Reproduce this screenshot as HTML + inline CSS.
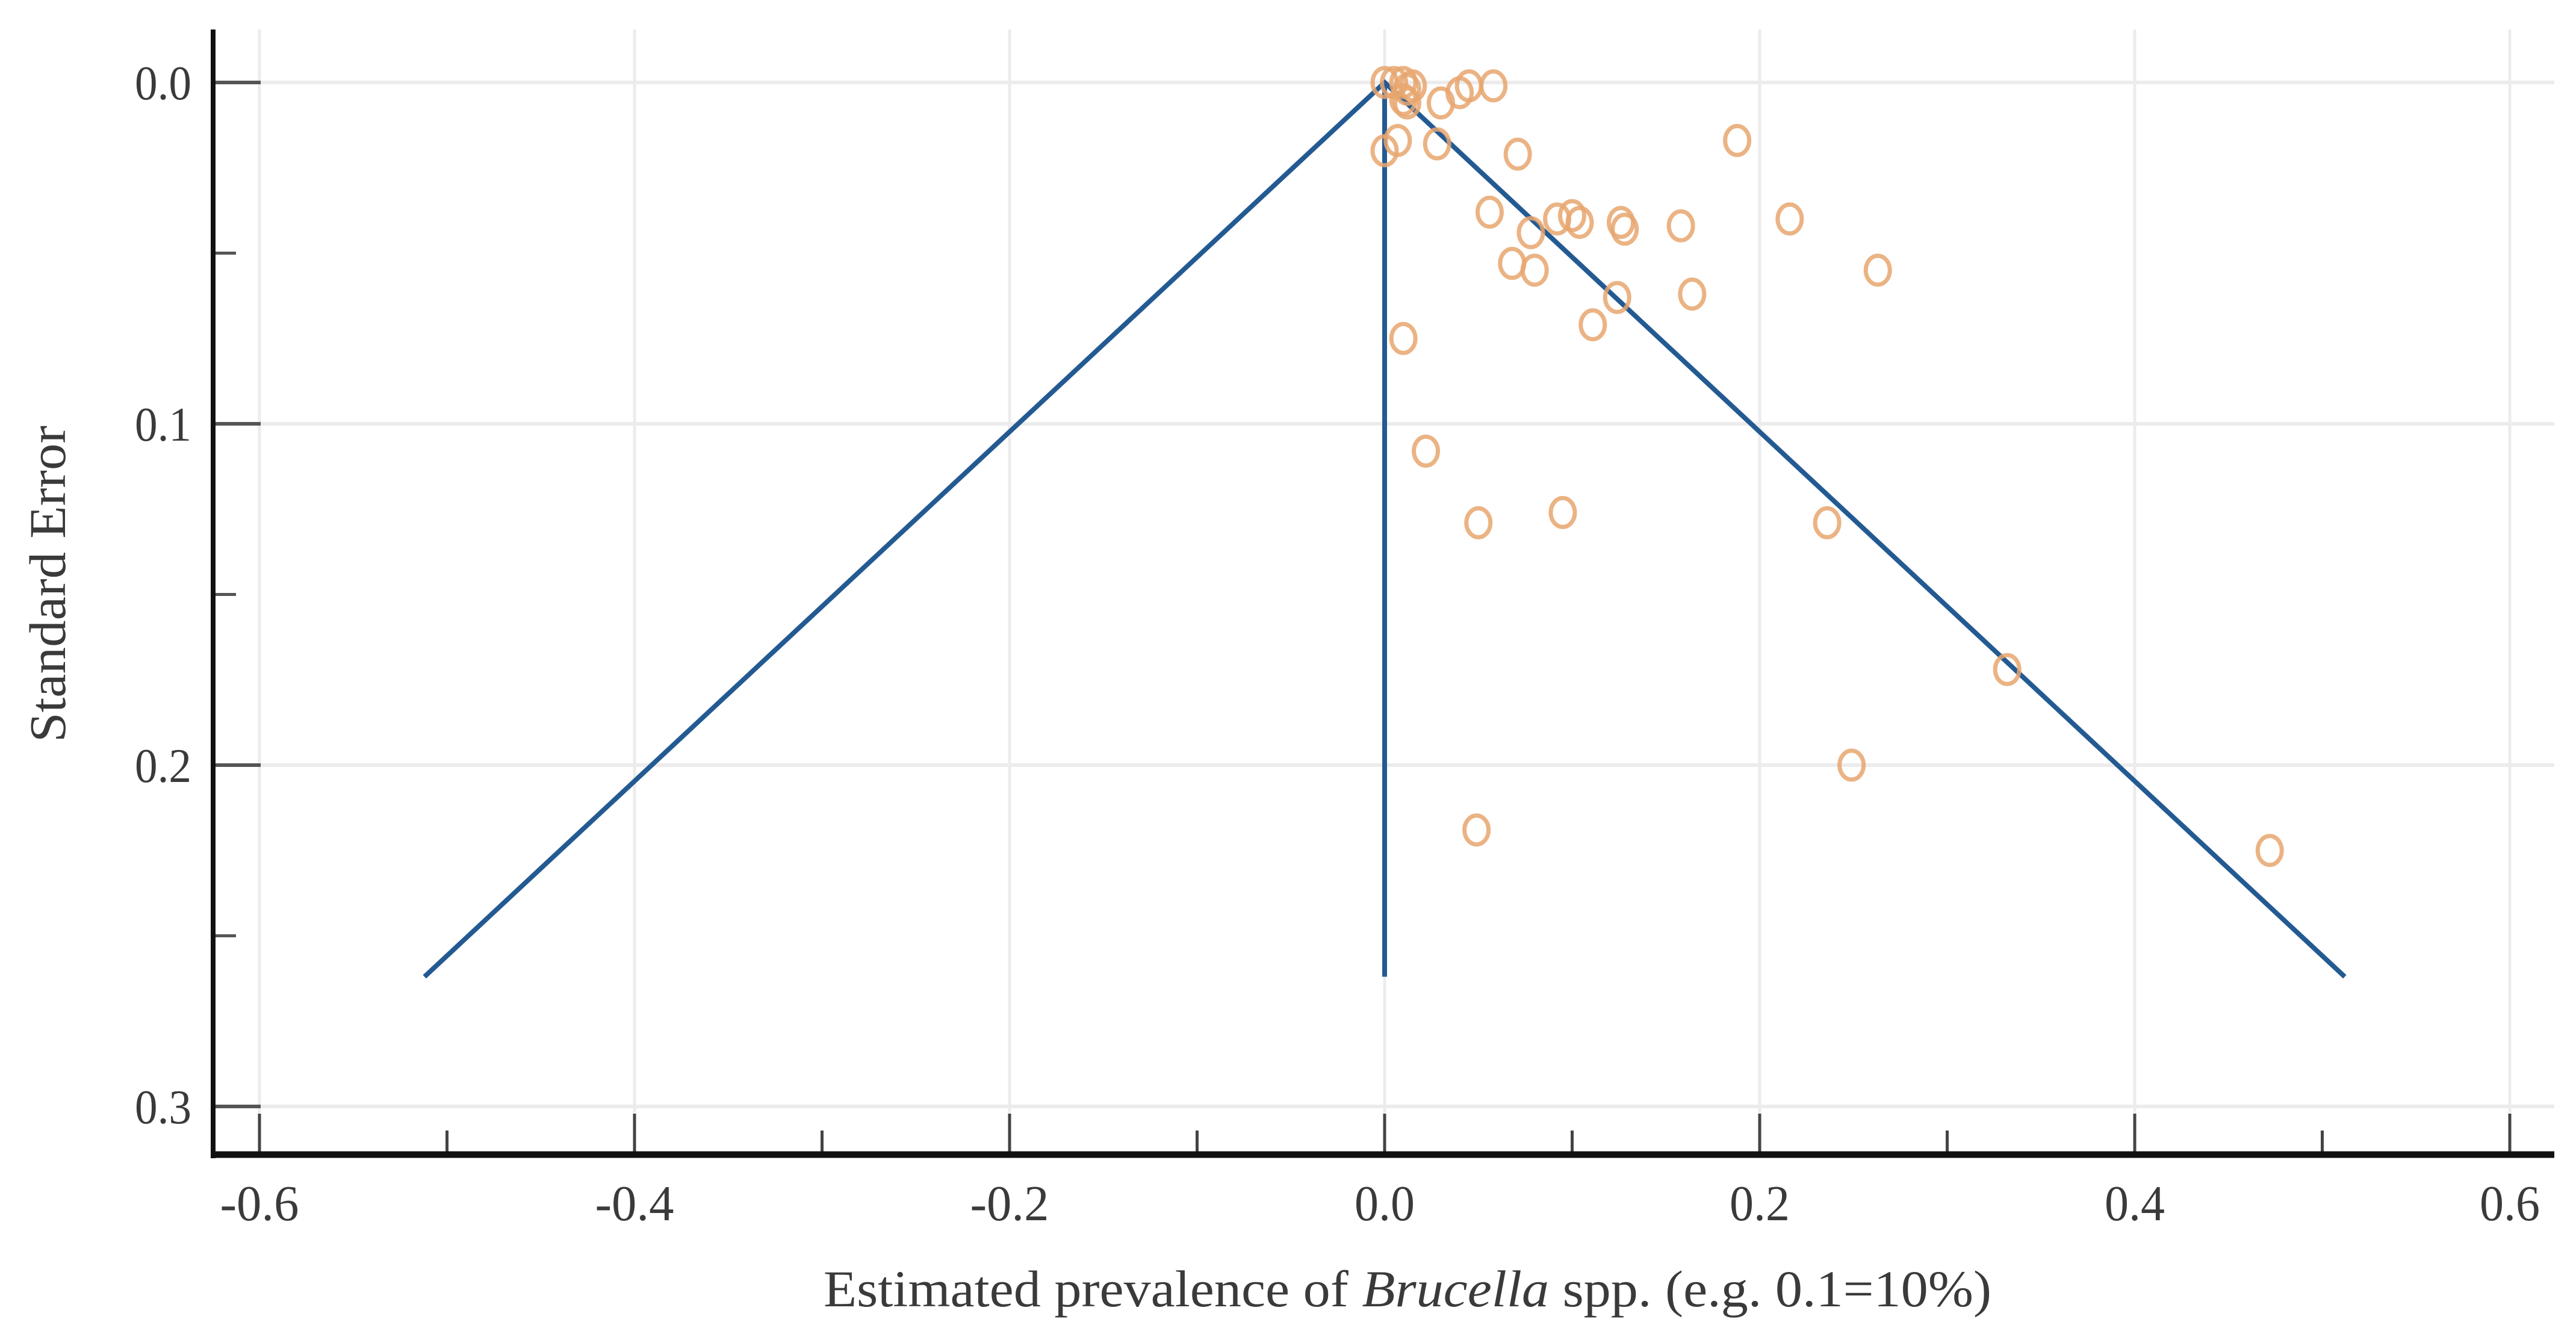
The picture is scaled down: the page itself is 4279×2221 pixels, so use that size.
<!DOCTYPE html>
<html><head><meta charset="utf-8"><style>
html,body{margin:0;padding:0;background:#fff}
svg{display:block}
text{font-family:"Liberation Serif",serif;fill:#3a3a3a}
</style></head><body>
<svg id="chart" width="4279" height="2221" viewBox="0 0 4279 2221" xmlns="http://www.w3.org/2000/svg">
<g id="grid"></g>
<g id="axes"></g>
<g id="funnel"></g>
<g id="pts"></g>
<text x="2338" y="2170" font-size="86" text-anchor="middle" textLength="1940" lengthAdjust="spacingAndGlyphs">Estimated prevalence of <tspan font-style="italic">Brucella</tspan> spp. (e.g. 0.1=10%)</text>
<text transform="translate(108,970) rotate(-90)" font-size="86" text-anchor="middle" textLength="526" lengthAdjust="spacingAndGlyphs">Standard Error</text>
</svg>
<script>
const xTicks = [-0.6,-0.4,-0.2,0.0,0.2,0.4,0.6];
const xTickLabels = ["-0.6","-0.4","-0.2","0.0","0.2","0.4","0.6"];
const xMinorTicks = [-0.5,-0.3,-0.1,0.1,0.3,0.5];
const yTicks = [0.0,0.1,0.2,0.3];
const yTickLabels = ["0.0","0.1","0.2","0.3"];
const yMinorTicks = [0.05,0.15,0.25];
const pointX = [0,0.005,0.01,0.012,0.015,0.01,0.012,0.045,0.058,0.03,0.04,0.007,0,0.028,0.071,0.188,0.056,0.092,0.1,0.104,0.126,0.128,0.158,0.216,0.078,0.068,0.08,0.263,0.124,0.164,0.111,0.01,0.022,0.05,0.095,0.236,0.332,0.249,0.049,0.472];
const pointSE = [0,0,0,0.002,0.001,0.005,0.006,0.001,0.001,0.006,0.003,0.017,0.02,0.018,0.021,0.017,0.038,0.04,0.039,0.041,0.041,0.043,0.042,0.040,0.044,0.053,0.055,0.055,0.063,0.062,0.071,0.075,0.108,0.129,0.126,0.129,0.172,0.2,0.219,0.225];
const funnelMean = [0];
const funnelSEmax = [0.262];
const funnelHalfWidth = [0.512];

const NS="http://www.w3.org/2000/svg";
const X = v => 2300 + v*3115;
const Y = v => 137 + v*5670;
function mk(p,tag,a){const e=document.createElementNS(NS,tag);for(const k in a)e.setAttribute(k,a[k]);p.appendChild(e);return e;}
const grid=document.getElementById('grid'),axes=document.getElementById('axes'),fun=document.getElementById('funnel'),pts=document.getElementById('pts');

xTicks.forEach((v,i)=>{
  const g=mk(grid,'line',{x1:X(v),x2:X(v),y1:49,y2:1912,stroke:'#ececec','stroke-width':5});
  
  
  const t=mk(axes,'line',{x1:X(v),x2:X(v),y1:1850,y2:1914,stroke:'#444','stroke-width':5});
  
  
  const l=mk(axes,'text',{x:X(v),y:2027,'font-size':84,'text-anchor':'middle',textLength:xTickLabels[i].length>3?131:100,lengthAdjust:'spacingAndGlyphs'});
  l.textContent=xTickLabels[i];
  
  
});
xMinorTicks.forEach(v=>{
  const t=mk(axes,'line',{x1:X(v),x2:X(v),y1:1878,y2:1914,stroke:'#444','stroke-width':5});
  
  
});
yTicks.forEach((v,i)=>{
  const g=mk(grid,'line',{x1:356,x2:4243,y1:Y(v),y2:Y(v),stroke:'#ececec','stroke-width':6});
  
  
  const t=mk(axes,'line',{x1:356,x2:433,y1:Y(v),y2:Y(v),stroke:'#555','stroke-width':6});
  
  
  const l=mk(axes,'text',{x:318,y:Y(v)+28,'font-size':80,'text-anchor':'end',textLength:94,lengthAdjust:'spacingAndGlyphs'});
  l.textContent=yTickLabels[i];
  
  
});
yMinorTicks.forEach(v=>{
  const t=mk(axes,'line',{x1:356,x2:392,y1:Y(v),y2:Y(v),stroke:'#555','stroke-width':5});
  
  
});
const ya=mk(axes,'line',{x1:354,x2:354,y1:49,y2:1924,stroke:'#111','stroke-width':8});


const xa=mk(axes,'line',{x1:350,x2:4243,y1:1918,y2:1918,stroke:'#111','stroke-width':11});



const m=funnelMean[0],s=funnelSEmax[0],h=funnelHalfWidth[0];
const fl=mk(fun,'polyline',{points:`${X(m-h)},${Y(s)} ${X(m)},${Y(0)} ${X(m+h)},${Y(s)}`,fill:'none',stroke:'#245a92','stroke-width':8,'stroke-linejoin':'miter'});


const vl=mk(fun,'line',{x1:X(m),x2:X(m),y1:Y(0),y2:Y(s),stroke:'#245a92','stroke-width':8});



pointX.forEach((v,i)=>{
  const c=mk(pts,'ellipse',{cx:X(v),cy:Y(pointSE[i]),rx:20,ry:24,fill:'none',stroke:'#e8a66f','stroke-width':7,'stroke-opacity':0.85});
  
  
});
</script>
</body></html>
